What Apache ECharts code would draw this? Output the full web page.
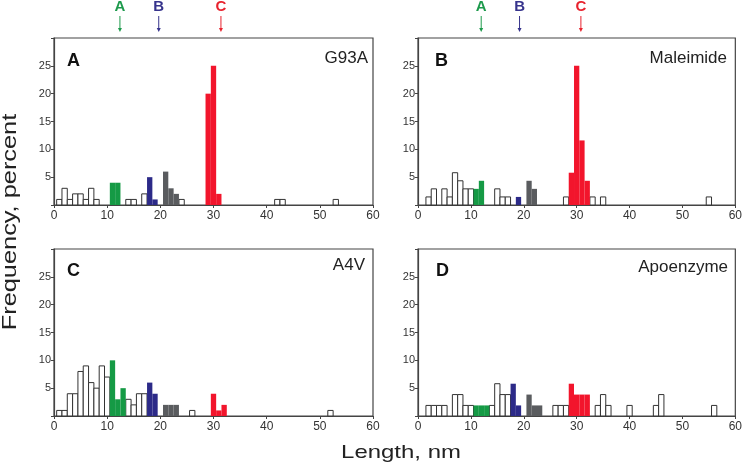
<!DOCTYPE html>
<html>
<head>
<meta charset="utf-8">
<script src="https://cdn.jsdelivr.net/npm/echarts@6/dist/echarts.min.js"></script>
<style>
html,body{margin:0;padding:0;background:#fff;}
#chart{width:745px;height:466px;}
</style>
</head>
<body>
<div id="chart"></div>
<script>
// ---- Data: [bin centre (nm), frequency (%)] ----
var panelNames = ['G93A', 'Maleimide', 'A4V', 'Apoenzyme'];
var panelLetters = ['A', 'B', 'C', 'D'];

var A_white = [[1,1],[2,3],[3,1],[4,2],[5,2],[6,1],[7,3],[8,1],[14,1],[15,1],[17,2],[24,1],[42,1],[43,1],[53,1]];
var A_green = [[11,4],[12,4]];
var A_blue  = [[18,5],[19,1]];
var A_gray  = [[21,6],[22,3],[23,2]];
var A_red   = [[29,20],[30,25],[31,2]];

var B_white = [[2,1.45],[3,2.9],[5,2.9],[6,1.45],[7,5.8],[8,4.35],[9,2.9],[10,2.9],[15,2.9],[16,1.45],[17,1.45],[28,1.45],[33,1.45],[35,1.45],[55,1.45]];
var B_green = [[11,2.9],[12,4.35]];
var B_blue  = [[19,1.45]];
var B_gray  = [[21,4.35],[22,2.9]];
var B_red   = [[29,5.8],[30,25],[31,11.6],[32,4.35]];

var C_white = [[1,1],[2,1],[3,4],[4,4],[5,8],[6,9],[7,6],[8,5],[9,9],[10,7],[14,3],[15,2],[16,4],[17,4],[26,1],[52,1]];
var C_green = [[11,10],[12,3],[13,5]];
var C_blue  = [[18,6],[19,4]];
var C_gray  = [[21,2],[22,2],[23,2]];
var C_red   = [[30,4],[31,1],[32,2]];

var D_white = [[2,1.9],[3,1.9],[4,1.9],[5,1.9],[7,3.85],[8,3.85],[9,1.9],[10,1.9],[14,1.9],[15,5.8],[16,3.85],[17,3.85],[26,1.9],[27,1.9],[28,1.9],[34,1.9],[35,3.85],[36,1.9],[40,1.9],[45,1.9],[46,3.85],[56,1.9]];
var D_green = [[11,1.9],[12,1.9],[13,1.9]];
var D_blue  = [[18,5.8],[19,1.9]];
var D_gray  = [[21,3.85],[22,1.9],[23,1.9]];
var D_red   = [[29,5.8],[30,3.85],[31,3.85],[32,3.85]];

// top marker arrows (nm positions) for the upper panels
var arrowLetters = ['A', 'B', 'C'];
var arrowsTopLeft  = [12.4, 19.7, 31.4];
var arrowsTopRight = [11.95, 19.2, 30.8];

var xTicks = [0, 60, 10];   // min, max, interval
var yTicks = [0, 30, 5];

// ---- Styling ----
var COL = { white: '#ffffff', green: '#159a45', blue: '#2c2a88', gray: '#5a5c5f', red: '#f2152c' };
var arrowCol = ['#1d9a4c', '#36338c', '#e8232e'];
var axisCol = '#444';

var panels = [
  { white: A_white, green: A_green, blue: A_blue, gray: A_gray, red: A_red },
  { white: B_white, green: B_green, blue: B_blue, gray: B_gray, red: B_red },
  { white: C_white, green: C_green, blue: C_blue, gray: C_gray, red: C_red },
  { white: D_white, green: D_green, blue: D_blue, gray: D_gray, red: D_red }
];

var grids = [
  { left: 54,  right: 372, top: 38,  height: 167 },
  { left: 418, right: 7,   top: 38,  height: 167 },
  { left: 54,  right: 372, top: 249, height: 167 },
  { left: 418, right: 7,   top: 249, height: 167 }
];

var xAxes = [], yAxes = [], series = [];
grids.forEach(function (g, i) {
  g.show = true; g.borderColor = axisCol; g.borderWidth = 1.2; g.backgroundColor = 'transparent';
  xAxes.push({
    gridIndex: i, type: 'value', min: xTicks[0], max: xTicks[1], interval: xTicks[2],
    axisLine: { show: true, lineStyle: { color: axisCol, width: 1.2 } },
    axisTick: { show: true, length: 3, lineStyle: { color: axisCol } },
    axisLabel: { color: '#333', fontSize: 12, fontFamily: 'Liberation Sans, Arial', margin: 5 },
    splitLine: { show: false }
  });
  yAxes.push({
    gridIndex: i, type: 'value', min: yTicks[0], max: yTicks[1], interval: yTicks[2],
    axisLine: { show: true, lineStyle: { color: axisCol, width: 1.2 } },
    axisTick: { show: true, length: 3, lineStyle: { color: axisCol } },
    axisLabel: { color: '#333', fontSize: 11, fontFamily: 'Liberation Sans, Arial', margin: 3,
      formatter: function (v) { return (v === 0 || v === 30) ? '' : String(v); } },
    splitLine: { show: false }
  });
});

function barSeries(idx, data, key) {
  var isWhite = key === 'white';
  return {
    type: 'custom', xAxisIndex: idx, yAxisIndex: idx, data: data, clip: false,
    z: isWhite ? 2 : 3,
    renderItem: function (params, api) {
      var x = api.value(0), v = api.value(1);
      var p1 = api.coord([x - 0.5, v]);
      var p2 = api.coord([x + 0.5, 0]);
      return {
        type: 'rect',
        shape: { x: p1[0], y: p1[1], width: p2[0] - p1[0], height: p2[1] - p1[1] },
        style: isWhite ? { fill: '#fff', stroke: '#333', lineWidth: 1 } : { fill: COL[key], stroke: null }
      };
    }
  };
}

panels.forEach(function (p, i) {
  ['white', 'green', 'blue', 'gray', 'red'].forEach(function (k) {
    series.push(barSeries(i, p[k], k));
  });
});

function arrowSeries(idx, xs) {
  var data = xs.map(function (x, j) { return [x, yTicks[1], j]; });
  return {
    type: 'custom', xAxisIndex: idx, yAxisIndex: idx, data: data, clip: false, silent: true,
    renderItem: function (params, api) {
      var j = api.value(2);
      var pt = api.coord([api.value(0), api.value(1)]);
      var cx = pt[0], top = pt[1];
      var c = arrowCol[j];
      return {
        type: 'group',
        children: [
          { type: 'line', shape: { x1: cx, y1: top - 22, x2: cx, y2: top - 8 }, style: { stroke: c, lineWidth: 1 } },
          { type: 'polygon', shape: { points: [[cx - 2, top - 10], [cx + 2, top - 10], [cx, top - 6]] }, style: { fill: c } },
          { type: 'text', style: { text: arrowLetters[j], x: cx, y: top - 31, textAlign: 'center', textVerticalAlign: 'middle',
              fill: c, font: 'bold 15px "Liberation Sans", Arial' } }
        ]
      };
    }
  };
}
series.push(arrowSeries(0, arrowsTopLeft));
series.push(arrowSeries(1, arrowsTopRight));

var labelFont = '"Liberation Sans", Arial';
var graphic = [
  { type: 'text', left: 67, top: 52, style: { text: 'A', font: 'bold 18px ' + labelFont, fill: '#111' } },
  { type: 'text', left: 435, top: 52, style: { text: 'B', font: 'bold 18px ' + labelFont, fill: '#111' } },
  { type: 'text', left: 67, top: 262, style: { text: 'C', font: 'bold 18px ' + labelFont, fill: '#111' } },
  { type: 'text', left: 436, top: 262, style: { text: 'D', font: 'bold 18px ' + labelFont, fill: '#111' } },
  { type: 'text', right: 745 - 368, top: 50, style: { text: panelNames[0], font: '17px ' + labelFont, fill: '#222' } },
  { type: 'text', right: 745 - 727, top: 50, style: { text: panelNames[1], font: '17px ' + labelFont, fill: '#222' } },
  { type: 'text', right: 745 - 365, top: 257, style: { text: panelNames[2], font: '17px ' + labelFont, fill: '#222' } },
  { type: 'text', right: 745 - 728, top: 259, style: { text: panelNames[3], font: '17px ' + labelFont, fill: '#222' } },
  { type: 'text', x: 401, y: 453, scaleX: 1.26,
    style: { text: 'Length, nm', x: 0, y: 0, textAlign: 'center', textVerticalAlign: 'middle', font: '19px ' + labelFont, fill: '#222' } },
  { type: 'text', x: 11, y: 222, rotation: Math.PI / 2, scaleX: 1.3,
    style: { text: 'Frequency, percent', x: 0, y: 0, textAlign: 'center', textVerticalAlign: 'middle', font: '19.5px ' + labelFont, fill: '#222' } }
];

var chart = echarts.init(document.getElementById('chart'), null, { renderer: 'canvas' });
chart.setOption({
  animation: false,
  backgroundColor: '#fff',
  grid: grids,
  xAxis: xAxes,
  yAxis: yAxes,
  series: series,
  graphic: graphic
});
</script>
</body>
</html>
